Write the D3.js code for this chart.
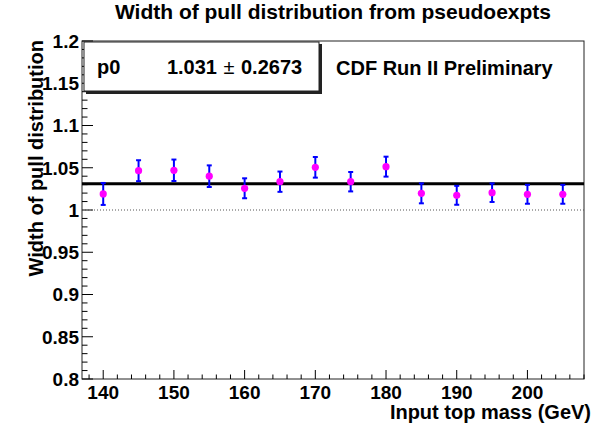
<!DOCTYPE html>
<html>
<head>
<meta charset="utf-8">
<script src="https://cdn.jsdelivr.net/npm/d3@7"></script>
<style>
  body { margin: 0; background: #fff; }
  svg { display: block; font-family: "Liberation Sans", Arial, sans-serif; font-weight: bold; }
</style>
</head>
<body>
<div id="chart"></div>
<script>
// data
var masses = [140, 145, 150, 155, 160, 165, 170, 175, 180, 185, 190, 195, 200, 205];
var widths = [1.019, 1.0465, 1.047, 1.040, 1.0257, 1.0335, 1.0505, 1.0335, 1.0513, 1.0197, 1.0174, 1.0205, 1.0186, 1.0186];
var errors = [0.013, 0.0124, 0.0127, 0.0128, 0.0118, 0.012, 0.0122, 0.0115, 0.0118, 0.0118, 0.0112, 0.011, 0.0112, 0.0112];
var fitValue = 1.031;
var fitError = 0.2673;
var xTicks = [140, 150, 160, 170, 180, 190, 200];
var yTicks = [0.8, 0.85, 0.9, 0.95, 1, 1.05, 1.1, 1.15, 1.2];

var svgWidth = 600;
var svgHeight = 425;

// frame of the plot area
var frame = { left: 82, right: 584, top: 41, bottom: 379 };

var svg = d3.select("#chart")
  .append("svg")
  .attr("width", svgWidth)
  .attr("height", svgHeight);

var xScale = d3.scaleLinear()
  .domain([137, 208])
  .range([frame.left, frame.right]);

var yScale = d3.scaleLinear()
  .domain([0.8, 1.2])
  .range([frame.bottom, frame.top]);

// frame box
svg.append("rect")
  .attr("x", frame.left)
  .attr("y", frame.top)
  .attr("width", frame.right - frame.left)
  .attr("height", frame.bottom - frame.top)
  .attr("fill", "none")
  .attr("stroke", "#222")
  .attr("stroke-width", 1);

// x ticks (inside the frame, pointing up)
var xMinor = d3.range(138, 208.1, 2);
svg.append("g").selectAll("line")
  .data(xMinor)
  .enter()
  .append("line")
  .attr("x1", d => xScale(d))
  .attr("x2", d => xScale(d))
  .attr("y1", frame.bottom)
  .attr("y2", d => frame.bottom - (d % 10 === 0 ? 9 : 4.5))
  .attr("stroke", "#000")
  .attr("stroke-width", 1);

svg.append("g").selectAll("text")
  .data(xTicks)
  .enter()
  .append("text")
  .attr("x", d => xScale(d))
  .attr("y", 399)
  .attr("text-anchor", "middle")
  .attr("font-size", 19)
  .text(d => d);

// y ticks (inside the frame, pointing right)
var yMinor = d3.range(0, 41).map(i => 0.8 + i * 0.01);
svg.append("g").selectAll("line")
  .data(yMinor)
  .enter()
  .append("line")
  .attr("x1", frame.left)
  .attr("x2", (d, i) => frame.left + (i % 5 === 0 ? 11 : 5.5))
  .attr("y1", d => yScale(d))
  .attr("y2", d => yScale(d))
  .attr("stroke", "#000")
  .attr("stroke-width", 1);

svg.append("g").selectAll("text")
  .data(yTicks)
  .enter()
  .append("text")
  .attr("x", 79)
  .attr("y", d => yScale(d))
  .attr("dy", "0.36em")
  .attr("text-anchor", "end")
  .attr("font-size", 19)
  .text(d => d);

// reference line at 1
svg.append("line")
  .attr("x1", frame.left)
  .attr("x2", frame.right)
  .attr("y1", yScale(1))
  .attr("y2", yScale(1))
  .attr("stroke", "#555")
  .attr("stroke-width", 1)
  .attr("stroke-dasharray", "1,2");

// fitted constant
svg.append("line")
  .attr("x1", xScale(137))
  .attr("x2", xScale(208))
  .attr("y1", yScale(fitValue))
  .attr("y2", yScale(fitValue))
  .attr("stroke", "#000")
  .attr("stroke-width", 3);

// error bars
var points = masses.map((m, i) => ({ m: m, w: widths[i], e: errors[i] }));
var bars = svg.append("g")
  .attr("stroke", "#0000ff")
  .attr("stroke-width", 2);

bars.selectAll(".err")
  .data(points)
  .enter()
  .append("line")
  .attr("x1", d => xScale(d.m))
  .attr("x2", d => xScale(d.m))
  .attr("y1", d => yScale(d.w - d.e))
  .attr("y2", d => yScale(d.w + d.e));

bars.selectAll(".capTop")
  .data(points)
  .enter()
  .append("line")
  .attr("x1", d => xScale(d.m) - 2.5)
  .attr("x2", d => xScale(d.m) + 2.5)
  .attr("y1", d => yScale(d.w + d.e))
  .attr("y2", d => yScale(d.w + d.e));

bars.selectAll(".capBot")
  .data(points)
  .enter()
  .append("line")
  .attr("x1", d => xScale(d.m) - 2.5)
  .attr("x2", d => xScale(d.m) + 2.5)
  .attr("y1", d => yScale(d.w - d.e))
  .attr("y2", d => yScale(d.w - d.e));

// markers
svg.append("g").selectAll("circle")
  .data(points)
  .enter()
  .append("circle")
  .attr("cx", d => xScale(d.m))
  .attr("cy", d => yScale(d.w))
  .attr("r", 3.6)
  .attr("fill", "#ff00ff");

// stats box with a small shadow
svg.append("rect")
  .attr("x", 86).attr("y", 44)
  .attr("width", 236).attr("height", 50)
  .attr("fill", "#222");
svg.append("rect")
  .attr("x", 84).attr("y", 42)
  .attr("width", 235).attr("height", 49)
  .attr("fill", "#fff")
  .attr("stroke", "#222")
  .attr("stroke-width", 1);

svg.append("text")
  .attr("x", 97).attr("y", 74)
  .attr("font-size", 20)
  .text("p0");
svg.append("text")
  .attr("x", 217).attr("y", 74)
  .attr("text-anchor", "end")
  .attr("font-size", 20)
  .text(fitValue.toFixed(3));
svg.append("text")
  .attr("x", 229).attr("y", 74)
  .attr("text-anchor", "middle")
  .attr("font-size", 20)
  .attr("font-weight", "normal")
  .text("\u00b1");
svg.append("text")
  .attr("x", 241).attr("y", 74)
  .attr("font-size", 20)
  .text(fitError.toFixed(4));

svg.append("text")
  .attr("x", 336).attr("y", 75)
  .attr("font-size", 20)
  .text("CDF Run II Preliminary");

// titles
svg.append("text")
  .attr("x", 333).attr("y", 19)
  .attr("text-anchor", "middle")
  .attr("font-size", 21)
  .text("Width of pull distribution from pseudoexpts");

svg.append("text")
  .attr("x", 591).attr("y", 419)
  .attr("text-anchor", "end")
  .attr("font-size", 20)
  .text("Input top mass (GeV)");

svg.append("text")
  .attr("transform", "translate(43, 40) rotate(-90)")
  .attr("text-anchor", "end")
  .attr("font-size", 20)
  .text("Width of pull distribution");
</script>
</body>
</html>
